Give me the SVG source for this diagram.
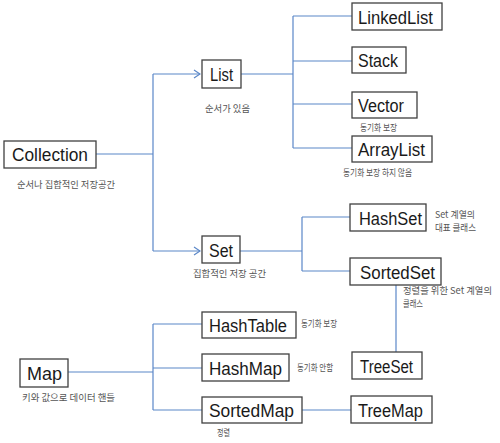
<svg xmlns="http://www.w3.org/2000/svg" width="500" height="443" viewBox="0 0 500 443">
<defs>
<marker id="arr" markerWidth="8" markerHeight="10" refX="7" refY="5" orient="auto" markerUnits="userSpaceOnUse">
<path d="M1,1 L7,5 L1,9" fill="none" stroke="#5b87c8" stroke-width="1.2"/>
</marker>
<style>
.box{fill:#fff;stroke:#404040;stroke-width:1.3}
.t{font-family:"Liberation Sans",Arial,sans-serif;font-size:17.5px;fill:#1a1a1a}
.l{font-family:"Noto Sans CJK KR","Noto Sans",sans-serif;font-size:9.5px;fill:#555}
.c{fill:none;stroke:#5b87c8;stroke-width:1.2}
</style>
</defs>
<rect width="500" height="443" fill="#fff"/>
<g id="connectors">
<path class="c" d="M96,154 H153 M153,74 V251"/>
<path class="c" d="M153,74 H200" marker-end="url(#arr)"/>
<path class="c" d="M153,251 H200" marker-end="url(#arr)"/>
<path class="c" d="M241,74 H293 M293,16 V148 M293,16 H352 M293,61 H352 M293,104 H352 M293,148 H352"/>
<path class="c" d="M240,251 H302 M302,217 V271 M302,217 H350 M302,271 H350"/>
<path class="c" d="M396,285 V352"/>
<path class="c" d="M68,372 H153 M153,324 V410 M153,324 H202 M153,368 H202 M153,410 H202"/>
<path class="c" d="M302,410 H351"/>
</g>
<g id="collection"><rect class="box" x="4" y="141" width="92" height="27"/><text class="t" x="12" y="161" textLength="76" lengthAdjust="spacingAndGlyphs">Collection</text><text class="l" x="17" y="188" textLength="98" lengthAdjust="spacingAndGlyphs">순서나 집합적인 저장공간</text></g>
<g id="list"><rect class="box" x="202" y="60" width="39" height="28"/><text class="t" x="210" y="81" textLength="23" lengthAdjust="spacingAndGlyphs">List</text><text class="l" x="205" y="112" textLength="45" lengthAdjust="spacingAndGlyphs">순서가 있음</text></g>
<g id="linkedlist"><rect class="box" x="352" y="3" width="90" height="27"/><text class="t" x="358" y="24" textLength="75" lengthAdjust="spacingAndGlyphs">LinkedList</text></g>
<g id="stack"><rect class="box" x="352" y="47" width="54" height="26"/><text class="t" x="358" y="67" textLength="40" lengthAdjust="spacingAndGlyphs">Stack</text></g>
<g id="vector"><rect class="box" x="352" y="92" width="65" height="26"/><text class="t" x="358" y="112" textLength="46" lengthAdjust="spacingAndGlyphs">Vector</text><text class="l" x="360" y="131" textLength="37" lengthAdjust="spacingAndGlyphs">동기화 보장</text></g>
<g id="arraylist"><rect class="box" x="352" y="136" width="80" height="26"/><text class="t" x="358" y="156" textLength="67" lengthAdjust="spacingAndGlyphs">ArrayList</text><text class="l" x="343" y="176" textLength="69" lengthAdjust="spacingAndGlyphs">동기화 보장 하지 않음</text></g>
<g id="set"><rect class="box" x="202" y="236" width="38" height="27"/><text class="t" x="209" y="257" textLength="24" lengthAdjust="spacingAndGlyphs">Set</text><text class="l" x="193" y="277" textLength="73" lengthAdjust="spacingAndGlyphs">집합적인 저장 공간</text></g>
<g id="hashset"><rect class="box" x="350" y="204" width="76" height="27"/><text class="t" x="359" y="225" textLength="63" lengthAdjust="spacingAndGlyphs">HashSet</text><text class="l" x="435" y="218" textLength="40" lengthAdjust="spacingAndGlyphs">Set 계열의</text><text class="l" x="435" y="231" textLength="41" lengthAdjust="spacingAndGlyphs">대표 클래스</text></g>
<g id="sortedset"><rect class="box" x="350" y="258" width="91" height="27"/><text class="t" x="360" y="279" textLength="75" lengthAdjust="spacingAndGlyphs">SortedSet</text><text class="l" x="403" y="294" textLength="89" lengthAdjust="spacingAndGlyphs">정렬을 위한 Set 계열의</text><text class="l" x="403" y="307" textLength="20" lengthAdjust="spacingAndGlyphs">클래스</text></g>
<g id="treeset"><rect class="box" x="352" y="352" width="70" height="27"/><text class="t" x="360" y="373" textLength="53" lengthAdjust="spacingAndGlyphs">TreeSet</text></g>
<g id="map"><rect class="box" x="20" y="359" width="48" height="28"/><text class="t" x="27" y="380" textLength="35" lengthAdjust="spacingAndGlyphs">Map</text><text class="l" x="22" y="401" textLength="93" lengthAdjust="spacingAndGlyphs">키와 값으로 데이터 핸들</text></g>
<g id="hashtable"><rect class="box" x="202" y="312" width="94" height="26"/><text class="t" x="209" y="332" textLength="78" lengthAdjust="spacingAndGlyphs">HashTable</text><text class="l" x="301" y="327" textLength="36" lengthAdjust="spacingAndGlyphs">동기화 보장</text></g>
<g id="hashmap"><rect class="box" x="202" y="354" width="87" height="27"/><text class="t" x="209" y="375" textLength="73" lengthAdjust="spacingAndGlyphs">HashMap</text><text class="l" x="297" y="371" textLength="36" lengthAdjust="spacingAndGlyphs">동기화 안함</text></g>
<g id="sortedmap"><rect class="box" x="202" y="397" width="100" height="26"/><text class="t" x="209" y="417" textLength="85" lengthAdjust="spacingAndGlyphs">SortedMap</text><text class="l" x="217" y="436" textLength="13" lengthAdjust="spacingAndGlyphs">정렬</text></g>
<g id="treemap"><rect class="box" x="351" y="396" width="81" height="27"/><text class="t" x="358" y="417" textLength="65" lengthAdjust="spacingAndGlyphs">TreeMap</text></g>
</svg>
